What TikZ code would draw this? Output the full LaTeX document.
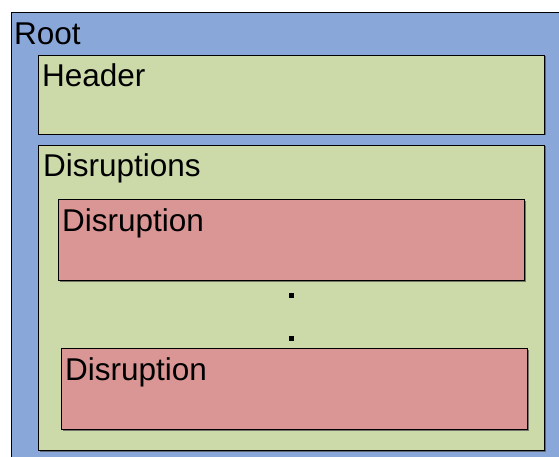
\documentclass[tikz,border=0pt]{standalone}
\usepackage{fontspec}
\setmainfont{Liberation Sans}
\usetikzlibrary{shadows}

\definecolor{rootblue}{RGB}{137,167,216}
\definecolor{partgreen}{RGB}{204,218,170}
\definecolor{itemred}{RGB}{218,150,148}

\tikzset{
    box/.style={rectangle,draw,line width=1pt,inner sep=0pt,anchor=north west},
    shadowed/.style={drop shadow={shadow xshift=1pt,shadow yshift=-1pt,opacity=0.7,fill=black!70}},
    title/.style={anchor=base west,inner sep=0pt,xshift=4pt,yshift=-32pt,font=\fontsize{31.5}{38}\selectfont},
    dot/.style={rectangle,fill=black,inner sep=0pt,minimum size=5pt}
}

\begin{document}
\begin{tikzpicture}[x=1pt,y=1pt]
    \clip (0,0) rectangle (559,-457);

    \node[box,fill=rootblue,minimum width=600pt,minimum height=500pt] (root) at (11,-12) {};
    \node[title,xshift=-1pt,yshift=-1pt] (root_lbl) at (root.north west) {Root};

    \node[box,shadowed,fill=partgreen,minimum width=506pt,minimum height=79pt] (header) at (38,-55) {};
    \node[title] (header_lbl) at (header.north west) {Header};

    \node[box,shadowed,fill=partgreen,minimum width=506pt,minimum height=305pt] (disruptions) at (38,-145) {};
    \node[title,xshift=1pt] (disruptions_lbl) at (disruptions.north west) {Disruptions};

    \node[box,shadowed,fill=itemred,minimum width=466pt,minimum height=81pt] (disruption_a) at (58,-199) {};
    \node[title] (disruption_a_lbl) at (disruption_a.north west) {Disruption};

    \node[box,shadowed,fill=itemred,minimum width=466pt,minimum height=81pt] (disruption_b) at (61,-348) {};
    \node[title] (disruption_b_lbl) at (disruption_b.north west) {Disruption};

    % ellipsis between the two entries
    \node[dot] (dot_a) at (291,-295) {};
    \node[dot] (dot_b) at (291,-338) {};
\end{tikzpicture}
\end{document}
